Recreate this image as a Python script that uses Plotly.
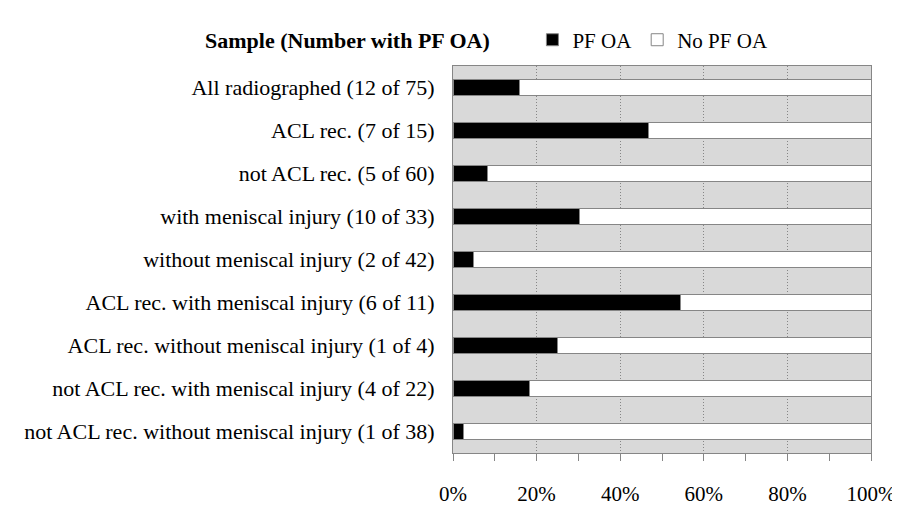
import plotly.graph_objects as go

categories = [
    "All radiographed (12 of 75)",
    "ACL rec. (7 of 15)",
    "not ACL rec. (5 of 60)",
    "with meniscal injury (10 of 33)",
    "without meniscal injury (2 of 42)",
    "ACL rec. with meniscal injury (6 of 11)",
    "ACL rec. without meniscal injury (1 of 4)",
    "not ACL rec. with meniscal injury (4 of 22)",
    "not ACL rec. without meniscal injury (1 of 38)",
]
pf_oa = [16.0, 46.7, 8.3, 30.3, 4.8, 54.5, 25.0, 18.2, 2.6]
no_pf_oa = [84.0, 53.3, 91.7, 69.7, 95.2, 45.5, 75.0, 81.8, 97.4]
tick_vals = [0, 20, 40, 60, 80, 100]
tick_text = ["0%", "20%", "40%", "60%", "80%", "100%"]

FONT = "Liberation Serif, Times New Roman, serif"
GRAY = "#868686"

fig = go.Figure()
fig.add_trace(go.Bar(
    y=categories, x=pf_oa, orientation="h", name="PF OA",
    marker=dict(color="black", line=dict(color=GRAY, width=1)),
))
fig.add_trace(go.Bar(
    y=categories, x=no_pf_oa, orientation="h", name="No PF OA",
    marker=dict(color="white", line=dict(color=GRAY, width=1)),
))

fig.update_layout(
    width=900, height=510,
    barmode="stack", bargap=0.62,
    paper_bgcolor="white", plot_bgcolor="#d9d9d9",
    margin=dict(l=445, r=30, t=48, b=44),
    font=dict(family=FONT, size=22, color="black"),
    legend=dict(
        orientation="h", x=0.19, y=1.067, xanchor="left", yanchor="middle",
        font=dict(family=FONT, size=21), itemwidth=30, traceorder="normal",
        bgcolor="rgba(0,0,0,0)",
    ),
    annotations=[dict(
        text="<b>Sample (Number with PF OA)</b>", x=0.094, y=1.067,
        xref="x domain", yref="paper", showarrow=False,
        xanchor="right", yanchor="middle",
        font=dict(family=FONT, size=22),
    )],
)

fig.update_xaxes(
    range=[0, 100], tickvals=tick_vals, ticktext=tick_text,
    tickfont=dict(size=21),
    showgrid=True, gridcolor=GRAY, griddash="1px,2px", gridwidth=1,
    showline=True, linecolor=GRAY, linewidth=1, mirror=True,
    ticks="outside", ticklen=7, tickcolor=GRAY, ticklabelstandoff=15,
    minor=dict(dtick=10, tick0=0, ticks="outside", ticklen=7, tickcolor=GRAY, showgrid=False),
    zeroline=False, fixedrange=True,
)
fig.update_yaxes(
    autorange="reversed", showgrid=False,
    showline=True, linecolor=GRAY, linewidth=1, mirror=True,
    ticks="", ticklabelstandoff=13, fixedrange=True,
)

fig.write_html("out.html")
